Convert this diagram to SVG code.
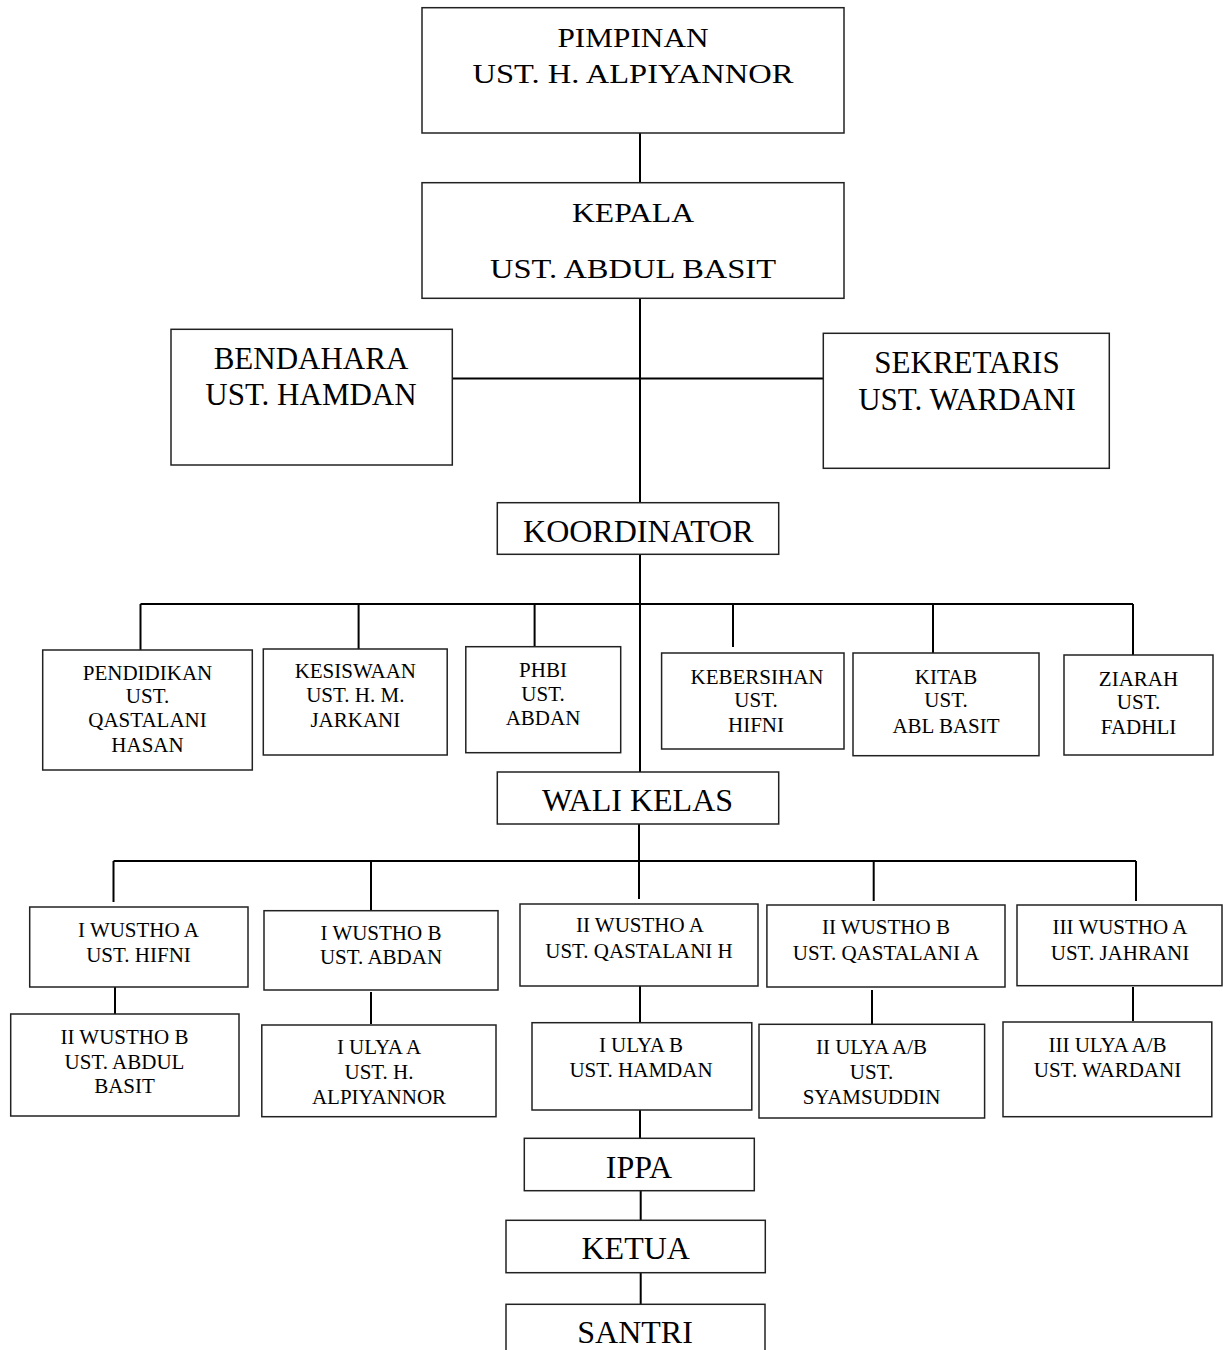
<svg xmlns="http://www.w3.org/2000/svg" width="1223" height="1350" viewBox="0 0 1223 1350">
<style>
.box{fill:#fff;stroke:#222;stroke-width:1.5}
.ln{stroke:#000;stroke-width:2;fill:none}
text{font-family:"Liberation Serif","Times New Roman",serif;text-anchor:middle;fill:#000}
.t28{font-size:28px}
.t31{font-size:31px}
.t32{font-size:32px}
.s{font-size:21px}
</style>
<rect width="1223" height="1350" fill="#fff"/>
<g id="connectors">
<path class="ln" d="M640 133V183M640 298V503M452 378.5H823"/>
<path class="ln" d="M640 554V772M140.5 604H1133M140.5 604V650M358.6 604V649M534.6 604V647M733 604V647M933 604V653M1133 604V655"/>
<path class="ln" d="M639 824V899M113.5 861H1136M113.5 861V902M371 861V910M873.7 861V901M1136 861V901"/>
<path class="ln" d="M115 985V1014M371 992V1024M640 986V1022M872 990V1024M1133 987V1021"/>
<path class="ln" d="M640 1110V1138M640.7 1191V1220M640.7 1273V1304"/>
</g>
<g id="pimpinan"><rect class="box" x="422" y="7.7" width="422" height="125.3"/>
<text class="t28" x="633" y="46.7" textLength="151" lengthAdjust="spacingAndGlyphs">PIMPINAN</text>
<text class="t28" x="633" y="83.3" textLength="321" lengthAdjust="spacingAndGlyphs">UST. H. ALPIYANNOR</text></g>
<g id="kepala"><rect class="box" x="422" y="182.7" width="422" height="115.6"/>
<text class="t28" x="633" y="222" textLength="122" lengthAdjust="spacingAndGlyphs">KEPALA</text>
<text class="t28" x="633" y="278" textLength="286" lengthAdjust="spacingAndGlyphs">UST. ABDUL BASIT</text></g>
<g id="bendahara"><rect class="box" x="171" y="329.3" width="281.3" height="135.7"/>
<text class="t31" x="311" y="369.3">BENDAHARA</text>
<text class="t31" x="311" y="405">UST. HAMDAN</text></g>
<g id="sekretaris"><rect class="box" x="823.3" y="333.3" width="286" height="135"/>
<text class="t31" x="967" y="372.7">SEKRETARIS</text>
<text class="t31" x="967" y="410">UST. WARDANI</text></g>
<g id="koordinator"><rect class="box" x="497.3" y="502.7" width="281.4" height="51.6"/>
<text class="t32" x="638.3" y="541.7">KOORDINATOR</text></g>
<g id="pendidikan"><rect class="box" x="42.7" y="650" width="209.6" height="120"/>
<text class="s" x="147.5" y="680">PENDIDIKAN</text>
<text class="s" x="147.5" y="703.3">UST.</text>
<text class="s" x="147.5" y="726.7">QASTALANI</text>
<text class="s" x="147.5" y="752.3">HASAN</text></g>
<g id="kesiswaan"><rect class="box" x="263.3" y="649" width="183.9" height="106"/>
<text class="s" x="355.3" y="678.3">KESISWAAN</text>
<text class="s" x="355.3" y="702.3">UST. H. M.</text>
<text class="s" x="355.3" y="726.7">JARKANI</text></g>
<g id="phbi"><rect class="box" x="465.8" y="646.7" width="154.9" height="106"/>
<text class="s" x="543" y="677.3">PHBI</text>
<text class="s" x="543" y="701">UST.</text>
<text class="s" x="543" y="725">ABDAN</text></g>
<g id="kebersihan"><rect class="box" x="661.6" y="653" width="182.4" height="96"/>
<text class="s" x="757" y="684.3">KEBERSIHAN</text>
<text class="s" x="756" y="707.3">UST.</text>
<text class="s" x="756" y="731.7">HIFNI</text></g>
<g id="kitab"><rect class="box" x="853" y="653" width="186" height="102.7"/>
<text class="s" x="946" y="684.3">KITAB</text>
<text class="s" x="946" y="707.3">UST.</text>
<text class="s" x="946" y="732.7">ABL BASIT</text></g>
<g id="ziarah"><rect class="box" x="1064" y="655" width="149" height="100"/>
<text class="s" x="1138.5" y="685.7">ZIARAH</text>
<text class="s" x="1138.5" y="709.3">UST.</text>
<text class="s" x="1138.5" y="734.3">FADHLI</text></g>
<g id="wali-kelas"><rect class="box" x="497.3" y="772" width="281.4" height="52"/>
<text class="t32" x="637.5" y="810.7">WALI KELAS</text></g>
<g id="i-wustho-a"><rect class="box" x="29.7" y="907" width="218.3" height="80"/>
<text class="s" x="138.5" y="937.3">I WUSTHO A</text>
<text class="s" x="138.5" y="961.7">UST. HIFNI</text></g>
<g id="i-wustho-b"><rect class="box" x="264" y="910.7" width="234" height="79.3"/>
<text class="s" x="381" y="940">I WUSTHO B</text>
<text class="s" x="381" y="964.3">UST. ABDAN</text></g>
<g id="ii-wustho-a"><rect class="box" x="520" y="904" width="238" height="82"/>
<text class="s" x="640" y="931.7">II WUSTHO A</text>
<text class="s" x="639" y="957.5">UST. QASTALANI H</text></g>
<g id="ii-wustho-b"><rect class="box" x="766.9" y="905" width="238.1" height="82"/>
<text class="s" x="886" y="934">II WUSTHO B</text>
<text class="s" x="886" y="960">UST. QASTALANI A</text></g>
<g id="iii-wustho-a"><rect class="box" x="1017" y="905" width="205" height="80.7"/>
<text class="s" x="1120" y="934">III WUSTHO A</text>
<text class="s" x="1120" y="960">UST. JAHRANI</text></g>
<g id="ii-wustho-b-2"><rect class="box" x="10.7" y="1014" width="228.3" height="102"/>
<text class="s" x="124.5" y="1044.3">II WUSTHO B</text>
<text class="s" x="124.5" y="1069">UST. ABDUL</text>
<text class="s" x="124.5" y="1093.3">BASIT</text></g>
<g id="i-ulya-a"><rect class="box" x="261.8" y="1025" width="234.2" height="91.7"/>
<text class="s" x="379" y="1054.3">I ULYA A</text>
<text class="s" x="379" y="1079.3">UST. H.</text>
<text class="s" x="379" y="1104">ALPIYANNOR</text></g>
<g id="i-ulya-b"><rect class="box" x="532" y="1022.7" width="219.8" height="87.3"/>
<text class="s" x="641" y="1051.7">I ULYA B</text>
<text class="s" x="641" y="1076.7">UST. HAMDAN</text></g>
<g id="ii-ulya-ab"><rect class="box" x="759" y="1024.3" width="225.6" height="93.7"/>
<text class="s" x="871.5" y="1054">II ULYA A/B</text>
<text class="s" x="871.5" y="1079.3">UST.</text>
<text class="s" x="871.5" y="1104">SYAMSUDDIN</text></g>
<g id="iii-ulya-ab"><rect class="box" x="1003" y="1022" width="208.8" height="94.7"/>
<text class="s" x="1107.5" y="1051.7">III ULYA A/B</text>
<text class="s" x="1107.5" y="1076.7">UST. WARDANI</text></g>
<g id="ippa"><rect class="box" x="524.3" y="1138.3" width="230" height="52.4"/>
<text class="t32" x="639" y="1178.3">IPPA</text></g>
<g id="ketua"><rect class="box" x="506" y="1220.3" width="259.3" height="52.4"/>
<text class="t32" x="635.7" y="1259.3">KETUA</text></g>
<g id="santri"><rect class="box" x="506" y="1304.3" width="259" height="60"/>
<text class="t32" x="635" y="1343.3">SANTRI</text></g>
</svg>
